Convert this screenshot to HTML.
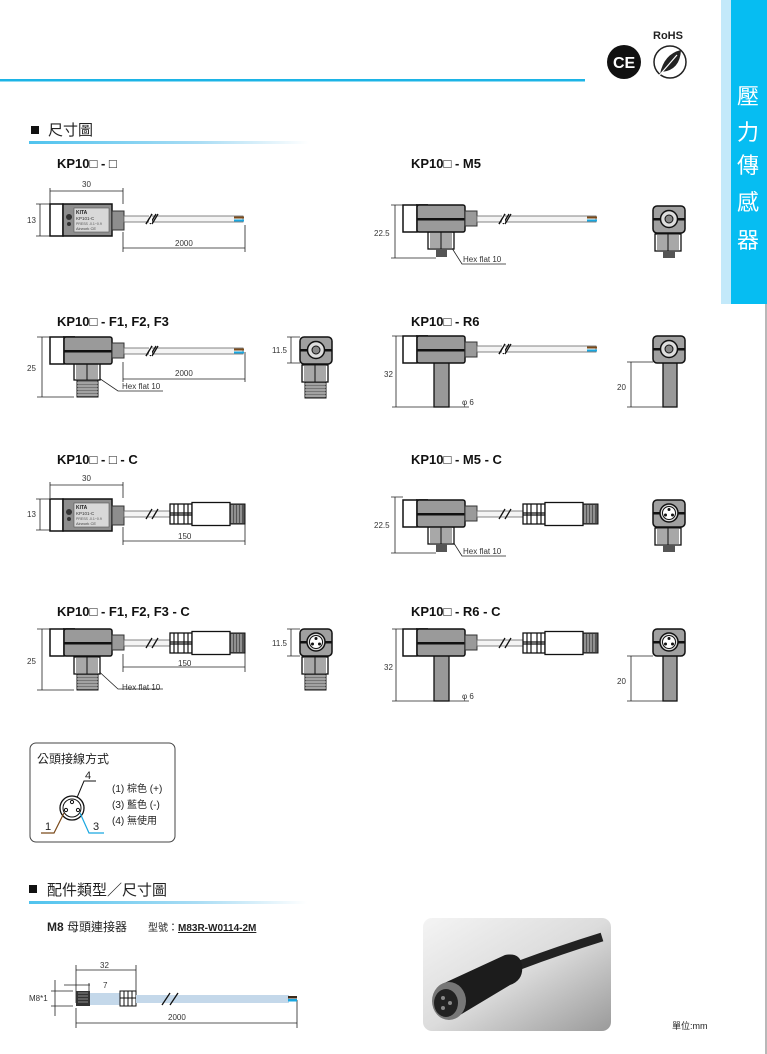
<!DOCTYPE html>
<html><head><meta charset="utf-8"><style>
html,body{margin:0;padding:0;background:#fff;}
svg{display:block;}
text{font-family:"Liberation Sans","Noto Sans CJK TC",sans-serif;}
</style></head><body>
<svg width="767" height="1054" viewBox="0 0 767 1054" xmlns="http://www.w3.org/2000/svg">
<defs>
<linearGradient id="hl" x1="0" x2="1"><stop offset="0" stop-color="#4fc3ee"/><stop offset="0.6" stop-color="#a8dcf4"/><stop offset="1" stop-color="#fff"/></linearGradient>
<linearGradient id="ph" x1="0" y1="0" x2="1" y2="1"><stop offset="0" stop-color="#f4f4f4"/><stop offset="0.5" stop-color="#dcdcdc"/><stop offset="1" stop-color="#9a9a9a"/></linearGradient>
<!-- angled body: origin at cap top-left, height 27 -->
<g id="abody">
<rect x="13" y="-1" width="12" height="2" fill="#555"/>
<rect x="0" y="0" width="14" height="27" fill="#fff" stroke="#111" stroke-width="1.5"/>
<rect x="14" y="0" width="48" height="27" rx="2" fill="#9a9a9a" stroke="#111" stroke-width="1.5"/>
<rect x="14" y="13" width="48" height="2.5" fill="#111"/>
<rect x="62" y="6" width="12" height="15" fill="#9a9a9a" stroke="#333" stroke-width="1"/>
</g>
<!-- flat body with label: origin cap top-left, height 32 -->
<g id="fbody">
<rect x="0" y="0" width="13" height="32" fill="#fff" stroke="#111" stroke-width="1.5"/>
<rect x="13" y="0" width="49" height="32" fill="#8e8e8e" stroke="#111" stroke-width="1.5"/>
<rect x="24" y="4" width="35" height="24" fill="#d8d8d8" stroke="#555" stroke-width="0.6"/>
<circle cx="19" cy="13" r="3" fill="#333"/><circle cx="19" cy="20" r="2" fill="#333"/>
<text x="26" y="10" font-size="5" font-weight="bold" fill="#222">KITA</text>
<text x="26" y="16" font-size="4.5" fill="#333">KP101-C</text>
<text x="26" y="21" font-size="3.5" fill="#555">PRESS -0.1~0.9</text>
<text x="26" y="26" font-size="4" fill="#444">Airwork CE</text>
<rect x="62" y="7" width="12" height="19" fill="#8e8e8e" stroke="#333" stroke-width="1"/>
</g>
<g id="hex">
<rect x="0" y="0" width="26" height="17" fill="#fff" stroke="#111" stroke-width="1.3"/>
<rect x="2" y="1" width="22" height="15" fill="#a8a8a8"/>
<line x1="13" y1="0" x2="13" y2="17" stroke="#111"/>
</g>
<g id="thread">
<rect x="0" y="0" width="21" height="17" fill="#777" stroke="#111" stroke-width="1"/>
<path d="M0 3h21M0 6h21M0 9h21M0 12h21M0 15h21" stroke="#ccc" stroke-width="1"/>
</g>
<g id="side">
<rect x="0" y="0" width="32" height="27" rx="4" fill="#a0a0a0" stroke="#111" stroke-width="1.5"/>
<rect x="0" y="12" width="32" height="2.5" fill="#111"/>
<circle cx="16" cy="13" r="8.5" fill="#ddd" stroke="#111" stroke-width="1.5"/>
<circle cx="16" cy="13" r="4" fill="#888" stroke="#111"/>
</g>
<g id="sidec">
<rect x="0" y="0" width="32" height="27" rx="4" fill="#a0a0a0" stroke="#111" stroke-width="1.5"/>
<rect x="0" y="12" width="32" height="2.5" fill="#111"/>
<circle cx="16" cy="13" r="9" fill="#ddd" stroke="#111" stroke-width="1.5"/>
<circle cx="16" cy="13" r="6.5" fill="#fff" stroke="#111"/>
<circle cx="16" cy="9.5" r="1.5" fill="#111"/><circle cx="12.5" cy="15" r="1.5" fill="#111"/><circle cx="19.5" cy="15" r="1.5" fill="#111"/>
</g>
<!-- cable origin left end at center y; length 121 -->
<g id="cable">
<rect x="0" y="-3" width="119" height="6" fill="#f4f4f4" stroke="#666" stroke-width="0.8"/>
<path d="M22 5 L28 -5 M26 5 L32 -5" stroke="#111" stroke-width="1.3"/>
<rect x="25" y="-4" width="3" height="8" fill="#fff"/>
<path d="M22 5 L28 -5 M28 5 L34 -5" stroke="#111" stroke-width="1.3"/>
<rect x="110" y="-2.5" width="10" height="2" fill="#7a4a1a"/>
<rect x="110" y="0.5" width="10" height="2" fill="#19a7e0"/>
</g>
<!-- connector cable: origin at left end, center y -->
<g id="ccable">
<rect x="0" y="-3" width="48" height="6" fill="#f4f4f4" stroke="#666" stroke-width="0.8"/>
<path d="M22 5 L28 -5 M28 5 L34 -5" stroke="#111" stroke-width="1.3"/>
<rect x="46" y="-10" width="22" height="20" fill="#fff" stroke="#111" stroke-width="1.3"/>
<path d="M50 -10v20M54 -10v20M60 -10v20M64 -10v20M46 -1h22M46 1h22" stroke="#111" stroke-width="1.2"/>
<rect x="68" y="-11.5" width="38" height="23" fill="#fff" stroke="#111" stroke-width="1.3"/>
<rect x="106" y="-10" width="15" height="20" fill="#555" stroke="#111"/>
<path d="M108 -9v18M111 -9v18M114 -9v18M117 -9v18" stroke="#ccc" stroke-width="1"/>
</g>
</defs>

<!-- header -->
<rect x="0" y="79" width="585" height="2.5" fill="#1cb4e6"/>
<text x="653" y="39" font-size="11" font-weight="bold" fill="#222">RoHS</text>
<circle cx="624" cy="62" r="17" fill="#111"/>
<text x="613" y="68" font-size="16" font-weight="bold" fill="#fff">CE</text>
<circle cx="670" cy="62" r="16" fill="#fff" stroke="#222" stroke-width="1.5"/>
<path d="M660 74 Q 664 54 681 50 Q 680 70 662 72 Z" fill="#222"/>
<path d="M657 78 L 677 55" stroke="#fff" stroke-width="1.2"/>
<rect x="721" y="0" width="10" height="304" fill="#c3e9fa"/>
<rect x="731" y="0" width="36" height="304" fill="#06bdf2"/>
<line x1="766" y1="304" x2="766" y2="1054" stroke="#888" stroke-width="1.2"/>
<g font-size="22" fill="#fff" font-family="Liberation Sans,Noto Sans CJK TC,sans-serif">
<text x="737" y="104">壓</text><text x="737" y="140">力</text><text x="737" y="173">傳</text><text x="737" y="210">感</text><text x="737" y="248">器</text>
</g>

<!-- section 1 -->
<rect x="31" y="126" width="8" height="8" fill="#111"/>
<text x="48" y="135" font-size="15" fill="#222">尺寸圖</text>
<rect x="29" y="141" width="280" height="3" fill="url(#hl)"/>

<g font-size="13" font-weight="bold" fill="#111">
<text x="57" y="168">KP10□ - □</text>
<text x="411" y="168">KP10□ -  M5</text>
<text x="57" y="326">KP10□ - F1, F2, F3</text>
<text x="411" y="326">KP10□ - R6</text>
<text x="57" y="464">KP10□ - □ - C</text>
<text x="411" y="464">KP10□ - M5 - C</text>
<text x="57" y="616">KP10□ - F1, F2, F3 - C</text>
<text x="411" y="616">KP10□ - R6 - C</text>
</g>

<g stroke="#222" stroke-width="0.8" fill="none">
<!-- D1 dims -->
<path d="M50 188v16M123 188v16M50 191h73M36 204h14M36 236h14M40 204v32M123 232v20M245 225v27M123 248h122"/>
<path d="M37 337h13M37 397h37M42 337v60M123 362v20M245 352v30M123 379h122"/>
<path d="M287 337h13M287 363h13M291 337v26"/>
<path d="M36 499h14M36 530h14M40 499v31M50 482v16M123 482v16M50 485h73M123 527v18M245 520v25M123 541h122"/>
<path d="M37 629h13M37 690h37M42 629v61M123 654v18M245 650v22M123 667h122"/>
<path d="M287 629h13M287 656h13M291 629v27"/>
<path d="M391 205h12M391 258h45M395 205v53"/>
<path d="M391 497h12M391 553h45M395 497v56"/>
<path d="M392 336h11M392 407h42M396 336v71M449 407h20"/>
<path d="M392 629h11M392 701h42M396 629v72M449 701h20"/>
<path d="M627 362h26M627 407h36M631 362v45"/>
<path d="M627 656h26M627 701h36M631 656v45"/>
<path d="M450 245 L462 264 H506M450 537 L462 556 H506M93 374 L118 391 H163M93 666 L118 689 H163"/>
</g>
<g font-size="8" fill="#333">
<text x="82" y="187">30</text><text x="27" y="223">13</text><text x="175" y="246">2000</text>
<text x="27" y="371">25</text><text x="175" y="376">2000</text><text x="122" y="389">Hex flat 10</text><text x="272" y="353">11.5</text>
<text x="82" y="481">30</text><text x="27" y="517">13</text><text x="178" y="539">150</text>
<text x="27" y="664">25</text><text x="178" y="666">150</text><text x="122" y="690">Hex flat 10</text><text x="272" y="646">11.5</text>
<text x="374" y="236">22.5</text><text x="463" y="262">Hex flat 10</text>
<text x="374" y="528">22.5</text><text x="463" y="554">Hex flat 10</text>
<text x="384" y="377">32</text><text x="462" y="405">φ 6</text><text x="617" y="390">20</text>
<text x="384" y="670">32</text><text x="462" y="699">φ 6</text><text x="617" y="684">20</text>
</g>

<!-- D1 -->
<use href="#fbody" x="50" y="204"/><use href="#cable" x="124" y="219"/>
<!-- D2 M5 -->
<use href="#hex" x="428" y="232"/><rect x="436" y="249" width="11" height="8" fill="#555"/>
<use href="#abody" x="403" y="205"/><use href="#cable" x="477" y="219"/>
<use href="#hex" x="655" y="234"/><rect x="663" y="251" width="12" height="7" fill="#555"/>
<use href="#side" x="653" y="206"/>
<!-- D3 F -->
<use href="#thread" x="77" y="380"/><use href="#hex" x="74" y="363"/>
<use href="#abody" x="50" y="337"/><use href="#cable" x="124" y="351"/>
<use href="#thread" x="305" y="381"/><use href="#hex" x="302" y="365"/>
<use href="#side" x="300" y="337"/>
<!-- D4 R6 -->
<rect x="434" y="360" width="15" height="47" fill="#999" stroke="#111" stroke-width="1.3"/>
<use href="#abody" x="403" y="336"/><use href="#cable" x="477" y="349"/>
<rect x="663" y="360" width="14" height="47" fill="#999" stroke="#111" stroke-width="1.3"/>
<use href="#side" x="653" y="336"/>
<!-- D5 -->
<use href="#fbody" x="50" y="499"/><use href="#ccable" x="124" y="514"/>
<!-- D6 -->
<use href="#thread" x="77" y="673"/><use href="#hex" x="74" y="657"/>
<use href="#abody" x="50" y="629"/><use href="#ccable" x="124" y="643"/>
<use href="#thread" x="305" y="673"/><use href="#hex" x="302" y="657"/>
<use href="#sidec" x="300" y="629"/>
<!-- D7 -->
<use href="#hex" x="428" y="527"/><rect x="436" y="544" width="11" height="8" fill="#555"/>
<use href="#abody" x="403" y="500"/><use href="#ccable" x="477" y="514"/>
<use href="#hex" x="655" y="528"/><rect x="663" y="545" width="12" height="7" fill="#555"/>
<use href="#sidec" x="653" y="500"/>
<!-- D8 -->
<rect x="434" y="654" width="15" height="47" fill="#999" stroke="#111" stroke-width="1.3"/>
<use href="#abody" x="403" y="629"/><use href="#ccable" x="477" y="643"/>
<rect x="663" y="654" width="14" height="47" fill="#999" stroke="#111" stroke-width="1.3"/>
<use href="#sidec" x="653" y="629"/>

<!-- pin box -->
<rect x="30" y="743" width="145" height="99" rx="6" fill="#fff" stroke="#444" stroke-width="1"/>
<text x="37" y="763" font-size="12" fill="#222">公頭接線方式</text>
<text x="85" y="779" font-size="11" fill="#222">4</text>
<path d="M96 781 H84 L76 800" stroke="#111" fill="none"/>
<circle cx="72" cy="808" r="12" fill="#fff" stroke="#111" stroke-width="1.3"/>
<circle cx="72" cy="808" r="9" fill="none" stroke="#111"/>
<circle cx="72" cy="802" r="1.6" fill="none" stroke="#111"/><circle cx="66" cy="810" r="1.6" fill="none" stroke="#111"/><circle cx="78" cy="810" r="1.6" fill="none" stroke="#111"/>
<path d="M41 833 H54 L64 813" stroke="#7a4a1a" stroke-width="1.2" fill="none"/>
<path d="M80 813 L89 833 H104" stroke="#19a7e0" stroke-width="1.2" fill="none"/>
<text x="45" y="830" font-size="11" fill="#222">1</text><text x="93" y="830" font-size="11" fill="#222">3</text>
<g font-size="10" fill="#222"><text x="112" y="792">(1) 棕色 (+)</text><text x="112" y="808">(3) 藍色 (-)</text><text x="112" y="824">(4) 無使用</text></g>

<!-- section 2 -->
<rect x="29" y="885" width="8" height="8" fill="#111"/>
<text x="47" y="895" font-size="15" fill="#222">配件類型／尺寸圖</text>
<rect x="29" y="901" width="278" height="3" fill="url(#hl)"/>
<text x="47" y="931" font-size="12" font-weight="bold" fill="#222">M8 <tspan font-weight="normal">母頭連接器</tspan></text>
<text x="148" y="931" font-size="10" fill="#222">型號：<tspan font-weight="bold" text-decoration="underline">M83R-W0114-2M</tspan></text>

<g stroke="#222" stroke-width="0.8" fill="none">
<path d="M76 965v38M136 965v28M76 970h60M64 985h26M89 983v8M51 991h22M51 1006h22M55 980v36M76 1008v20M297 1000v28M76 1023h221"/>
</g>
<rect x="76" y="991" width="14" height="15" fill="#333"/>
<path d="M78 993h10M78 996h10M78 999h10M78 1002h10" stroke="#888"/>
<rect x="90" y="993" width="30" height="12" fill="#c4d8ea"/>
<rect x="120" y="991" width="16" height="15" fill="#fff" stroke="#111"/>
<path d="M124 991v15M128 991v15M132 991v15M120 998h16" stroke="#111"/>
<rect x="136" y="995" width="153" height="8" fill="#c4d8ea"/>
<path d="M162 1005 L170 993 M170 1005 L178 993" stroke="#111" stroke-width="1.3"/>
<rect x="288" y="996" width="9" height="2.5" fill="#3a2a1a"/><rect x="288" y="999" width="9" height="2.5" fill="#19a7e0"/>
<g font-size="8" fill="#333"><text x="100" y="968">32</text><text x="103" y="988">7</text><text x="29" y="1001">M8*1</text><text x="168" y="1020">2000</text></g>

<!-- photo -->
<rect x="423" y="918" width="188" height="113" rx="9" fill="url(#ph)"/>
<path d="M520 965 Q 560 950 602 937" stroke="#222" stroke-width="9" fill="none"/>
<path d="M440 985 L505 955 Q 520 952 522 965 Q 524 980 510 985 L460 1015 Z" fill="#1c1c1c"/>
<ellipse cx="449" cy="1001" rx="17" ry="19" fill="#777"/>
<ellipse cx="446" cy="1003" rx="12" ry="14" fill="#222"/>
<circle cx="443" cy="998" r="2" fill="#888"/><circle cx="450" cy="1003" r="2" fill="#888"/><circle cx="443" cy="1008" r="2" fill="#888"/>
<text x="672" y="1029" font-size="9" fill="#222">單位:mm</text>
</svg>
</body></html>
